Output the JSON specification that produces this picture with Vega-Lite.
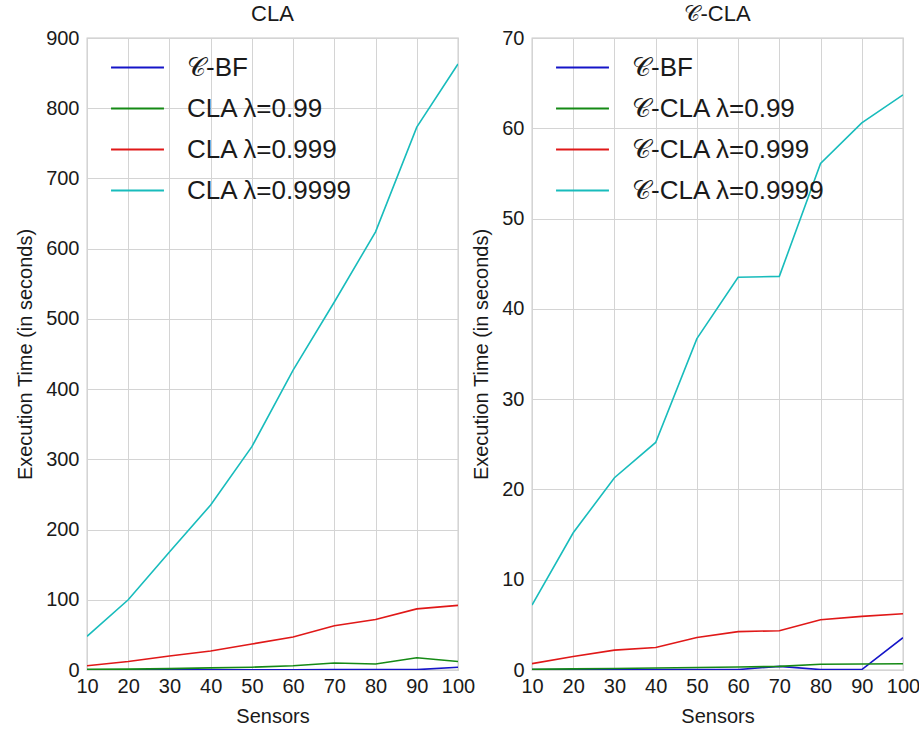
{
  "$schema": "https://vega.github.io/schema/vega-lite/v6.json",
  "padding": {"left": 14, "top": 2, "right": 8, "bottom": 0},
  "background": "white",
  "config": {
    "font": "Liberation Sans",
    "view": {"stroke": "#c8c8c8", "strokeWidth": 1.3},
    "axis": {"grid": true, "gridColor": "#d4d4d4", "gridWidth": 1, "domain": false, "ticks": false, "labelFontSize": 20, "titleFontSize": 20, "labelColor": "#1a1a1a", "titleColor": "#1a1a1a", "titleFontWeight": "normal", "labelPadding": 8, "titlePadding": 10, "labelFlush": false, "labelOverlap": false},
    "axisX": {"labelPadding": 6, "titlePadding": 10},
    "title": {"fontSize": 22, "fontWeight": "normal", "offset": 2, "color": "#1a1a1a"},
    "legend": {"orient": "none", "legendX": 23, "legendY": 2, "labelFontSize": 26, "labelLimit": 600, "labelColor": "#1a1a1a", "symbolType": "stroke", "symbolSize": 2800, "symbolStrokeWidth": 2, "labelOffset": 22, "rowPadding": -10, "title": null, "padding": 0}
  },
  "datasets": {
    "cla": [
      {"series": "𝒞-BF", "sensors": 10, "time": 0.3}, {"series": "𝒞-BF", "sensors": 20, "time": 0.3}, {"series": "𝒞-BF", "sensors": 30, "time": 0.4}, {"series": "𝒞-BF", "sensors": 40, "time": 0.4}, {"series": "𝒞-BF", "sensors": 50, "time": 0.4}, {"series": "𝒞-BF", "sensors": 60, "time": 0.4}, {"series": "𝒞-BF", "sensors": 70, "time": 0.5}, {"series": "𝒞-BF", "sensors": 80, "time": 0.5}, {"series": "𝒞-BF", "sensors": 90, "time": 0.5}, {"series": "𝒞-BF", "sensors": 100, "time": 4},
      {"series": "CLA λ=0.99", "sensors": 10, "time": 1}, {"series": "CLA λ=0.99", "sensors": 20, "time": 1.2}, {"series": "CLA λ=0.99", "sensors": 30, "time": 2}, {"series": "CLA λ=0.99", "sensors": 40, "time": 3}, {"series": "CLA λ=0.99", "sensors": 50, "time": 4}, {"series": "CLA λ=0.99", "sensors": 60, "time": 6}, {"series": "CLA λ=0.99", "sensors": 70, "time": 10}, {"series": "CLA λ=0.99", "sensors": 80, "time": 8.5}, {"series": "CLA λ=0.99", "sensors": 90, "time": 17.5}, {"series": "CLA λ=0.99", "sensors": 100, "time": 12},
      {"series": "CLA λ=0.999", "sensors": 10, "time": 6}, {"series": "CLA λ=0.999", "sensors": 20, "time": 12}, {"series": "CLA λ=0.999", "sensors": 30, "time": 20}, {"series": "CLA λ=0.999", "sensors": 40, "time": 27}, {"series": "CLA λ=0.999", "sensors": 50, "time": 37}, {"series": "CLA λ=0.999", "sensors": 60, "time": 47}, {"series": "CLA λ=0.999", "sensors": 70, "time": 63}, {"series": "CLA λ=0.999", "sensors": 80, "time": 72}, {"series": "CLA λ=0.999", "sensors": 90, "time": 87}, {"series": "CLA λ=0.999", "sensors": 100, "time": 92},
      {"series": "CLA λ=0.9999", "sensors": 10, "time": 48}, {"series": "CLA λ=0.9999", "sensors": 20, "time": 100}, {"series": "CLA λ=0.9999", "sensors": 30, "time": 168}, {"series": "CLA λ=0.9999", "sensors": 40, "time": 235}, {"series": "CLA λ=0.9999", "sensors": 50, "time": 318}, {"series": "CLA λ=0.9999", "sensors": 60, "time": 427}, {"series": "CLA λ=0.9999", "sensors": 70, "time": 524}, {"series": "CLA λ=0.9999", "sensors": 80, "time": 624}, {"series": "CLA λ=0.9999", "sensors": 90, "time": 773}, {"series": "CLA λ=0.9999", "sensors": 100, "time": 863}
    ],
    "ccla": [
      {"series": "𝒞-BF", "sensors": 10, "time": 0.05}, {"series": "𝒞-BF", "sensors": 20, "time": 0.05}, {"series": "𝒞-BF", "sensors": 30, "time": 0.05}, {"series": "𝒞-BF", "sensors": 40, "time": 0.05}, {"series": "𝒞-BF", "sensors": 50, "time": 0.05}, {"series": "𝒞-BF", "sensors": 60, "time": 0.05}, {"series": "𝒞-BF", "sensors": 70, "time": 0.4}, {"series": "𝒞-BF", "sensors": 80, "time": 0.05}, {"series": "𝒞-BF", "sensors": 90, "time": 0.05}, {"series": "𝒞-BF", "sensors": 100, "time": 3.58},
      {"series": "𝒞-CLA λ=0.99", "sensors": 10, "time": 0.08}, {"series": "𝒞-CLA λ=0.99", "sensors": 20, "time": 0.12}, {"series": "𝒞-CLA λ=0.99", "sensors": 30, "time": 0.17}, {"series": "𝒞-CLA λ=0.99", "sensors": 40, "time": 0.22}, {"series": "𝒞-CLA λ=0.99", "sensors": 50, "time": 0.28}, {"series": "𝒞-CLA λ=0.99", "sensors": 60, "time": 0.33}, {"series": "𝒞-CLA λ=0.99", "sensors": 70, "time": 0.4}, {"series": "𝒞-CLA λ=0.99", "sensors": 80, "time": 0.63}, {"series": "𝒞-CLA λ=0.99", "sensors": 90, "time": 0.66}, {"series": "𝒞-CLA λ=0.99", "sensors": 100, "time": 0.7},
      {"series": "𝒞-CLA λ=0.999", "sensors": 10, "time": 0.7}, {"series": "𝒞-CLA λ=0.999", "sensors": 20, "time": 1.5}, {"series": "𝒞-CLA λ=0.999", "sensors": 30, "time": 2.2}, {"series": "𝒞-CLA λ=0.999", "sensors": 40, "time": 2.5}, {"series": "𝒞-CLA λ=0.999", "sensors": 50, "time": 3.6}, {"series": "𝒞-CLA λ=0.999", "sensors": 60, "time": 4.25}, {"series": "𝒞-CLA λ=0.999", "sensors": 70, "time": 4.35}, {"series": "𝒞-CLA λ=0.999", "sensors": 80, "time": 5.57}, {"series": "𝒞-CLA λ=0.999", "sensors": 90, "time": 5.94}, {"series": "𝒞-CLA λ=0.999", "sensors": 100, "time": 6.23},
      {"series": "𝒞-CLA λ=0.9999", "sensors": 10, "time": 7.2}, {"series": "𝒞-CLA λ=0.9999", "sensors": 20, "time": 15.2}, {"series": "𝒞-CLA λ=0.9999", "sensors": 30, "time": 21.3}, {"series": "𝒞-CLA λ=0.9999", "sensors": 40, "time": 25.2}, {"series": "𝒞-CLA λ=0.9999", "sensors": 50, "time": 36.7}, {"series": "𝒞-CLA λ=0.9999", "sensors": 60, "time": 43.5}, {"series": "𝒞-CLA λ=0.9999", "sensors": 70, "time": 43.6}, {"series": "𝒞-CLA λ=0.9999", "sensors": 80, "time": 56.1}, {"series": "𝒞-CLA λ=0.9999", "sensors": 90, "time": 60.6}, {"series": "𝒞-CLA λ=0.9999", "sensors": 100, "time": 63.7}
    ]
  },
  "bounds": "flush",
  "spacing": 74,
  "resolve": {"scale": {"color": "independent"}, "legend": {"color": "independent"}},
  "hconcat": [
    {
      "title": "CLA",
      "width": 371,
      "height": 632,
      "data": {"name": "cla"},
      "mark": {"type": "line", "strokeWidth": 1.6, "clip": true},
      "encoding": {
        "x": {"field": "sensors", "type": "quantitative", "title": "Sensors", "scale": {"domain": [10, 100], "nice": false}, "axis": {"values": [10, 20, 30, 40, 50, 60, 70, 80, 90, 100]}},
        "y": {"field": "time", "type": "quantitative", "title": "Execution Time (in seconds)", "scale": {"domain": [0, 900], "nice": false}, "axis": {"values": [0, 100, 200, 300, 400, 500, 600, 700, 800, 900]}},
        "color": {"field": "series", "type": "nominal", "sort": null, "scale": {"domain": ["𝒞-BF", "CLA λ=0.99", "CLA λ=0.999", "CLA λ=0.9999"], "range": ["#1515c8", "#158a15", "#e01818", "#18bcbc"]}}
      }
    },
    {
      "title": "𝒞-CLA",
      "width": 371,
      "height": 632,
      "data": {"name": "ccla"},
      "mark": {"type": "line", "strokeWidth": 1.6, "clip": true},
      "encoding": {
        "x": {"field": "sensors", "type": "quantitative", "title": "Sensors", "scale": {"domain": [10, 100], "nice": false}, "axis": {"values": [10, 20, 30, 40, 50, 60, 70, 80, 90, 100]}},
        "y": {"field": "time", "type": "quantitative", "title": "Execution Time  (in seconds)", "scale": {"domain": [0, 70], "nice": false}, "axis": {"values": [0, 10, 20, 30, 40, 50, 60, 70]}},
        "color": {"field": "series", "type": "nominal", "sort": null, "scale": {"domain": ["𝒞-BF", "𝒞-CLA λ=0.99", "𝒞-CLA λ=0.999", "𝒞-CLA λ=0.9999"], "range": ["#1515c8", "#158a15", "#e01818", "#18bcbc"]}}
      }
    }
  ]
}
